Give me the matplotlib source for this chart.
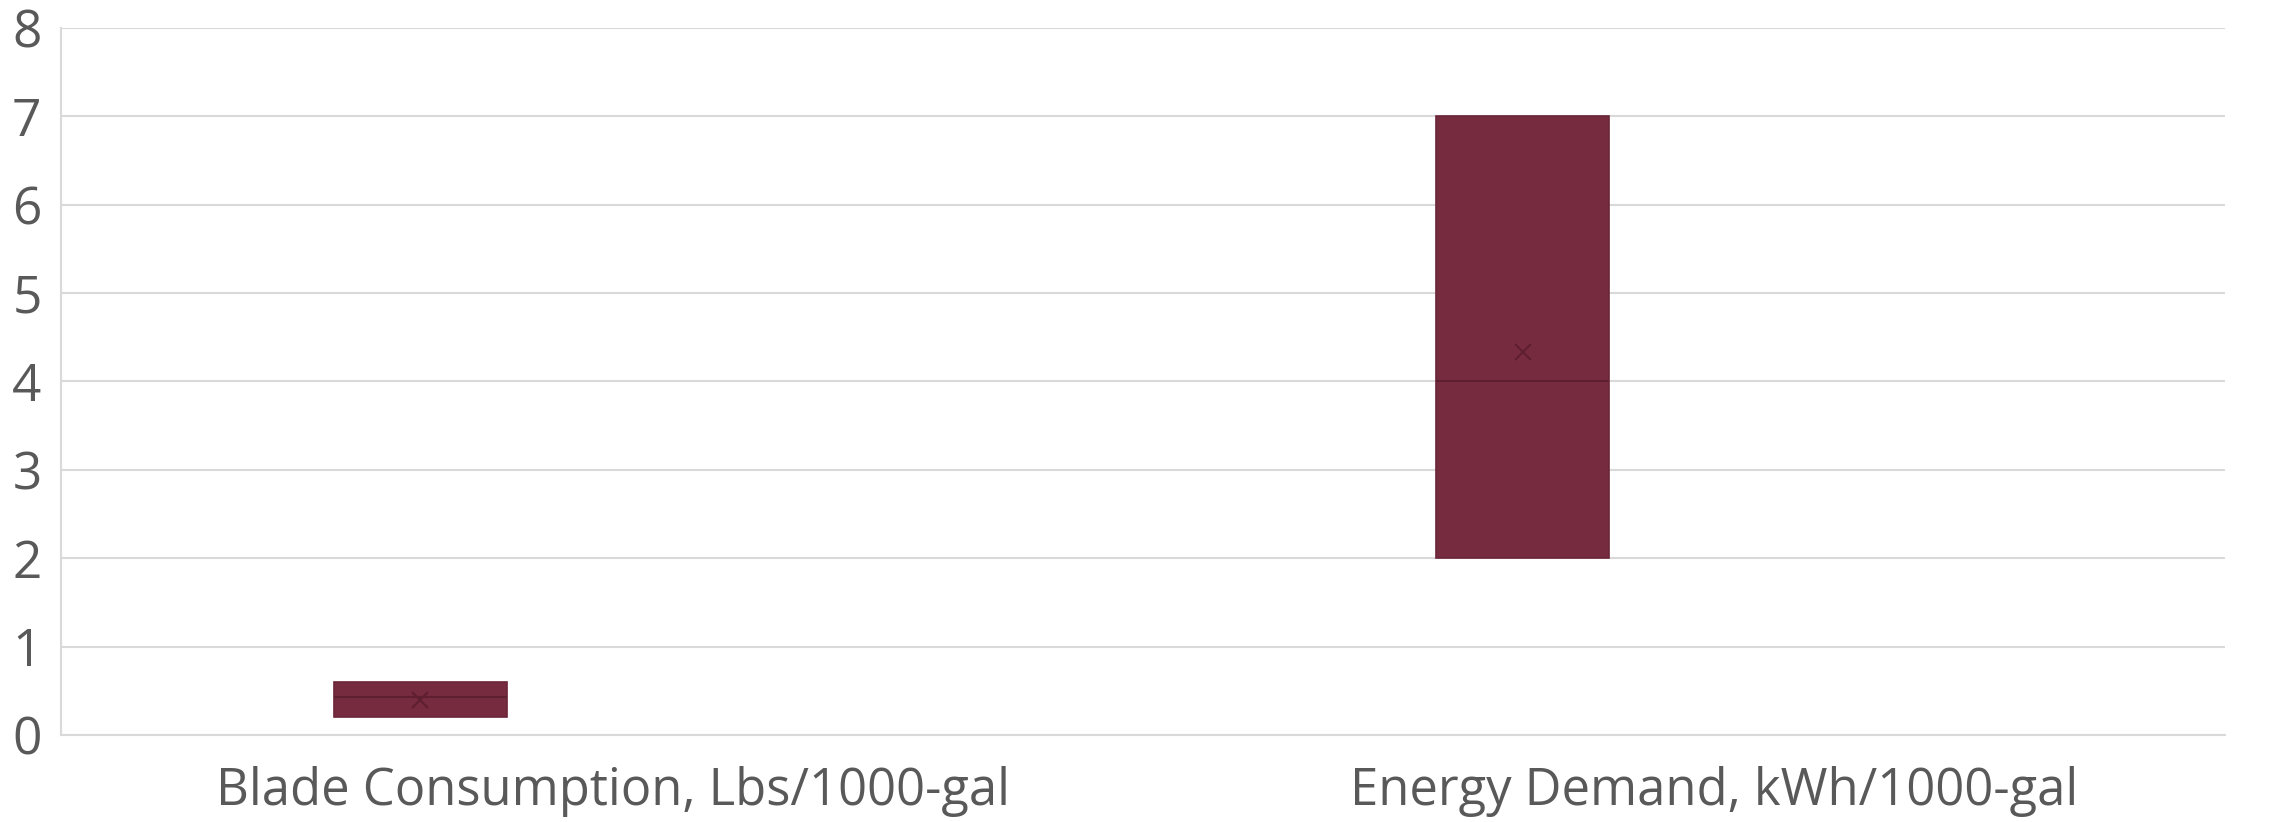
import matplotlib
matplotlib.use("Agg")
import matplotlib.pyplot as plt

# Summary statistics per metric (Excel-style box & whisker, no whiskers beyond the box)
categories = ["Blade Consumption, Lbs/1000-gal", "Energy Demand, kWh/1000-gal"]
q1_values = [0.2, 2.0]
median_values = [0.43, 4.0]
q3_values = [0.6, 7.0]
mean_values = [0.40, 4.33]
min_values = [0.2, 2.0]
max_values = [0.6, 7.0]
y_ticks = [0, 1, 2, 3, 4, 5, 6, 7, 8]

plt.rcParams['font.family'] = ['Open Sans', 'DejaVu Sans']

fig = plt.figure(figsize=(22.77, 8.22), dpi=100)
ax = fig.add_axes([0.0268, 0.1058, 0.9504, 0.8602])

box_fill = "#772b3f"
box_edge = "#6b2538"
dark = "#5e1f30"

stats = []
for i in range(len(categories)):
    stats.append(dict(med=median_values[i], q1=q1_values[i], q3=q3_values[i],
                      whislo=min_values[i], whishi=max_values[i],
                      mean=mean_values[i], fliers=[]))

box_positions = [0.332, 1.351]
ax.bxp(stats, positions=box_positions, widths=0.16, patch_artist=True,
       showmeans=True, showcaps=False, manage_ticks=False,
       boxprops=dict(facecolor=box_fill, edgecolor=box_edge, linewidth=1.2),
       medianprops=dict(color=dark, linewidth=1.5),
       whiskerprops=dict(color=box_edge, linewidth=1.2),
       meanprops=dict(marker="x", markeredgecolor=dark, markersize=12,
                      markeredgewidth=1.5))

ax.set_xlim(0, 2)
ax.set_ylim(0, 8)
ax.set_yticks(y_ticks)
ax.set_yticklabels([str(t) for t in y_ticks])
ax.set_xticks([0.51, 1.528])
ax.set_xticklabels(categories)

ax.grid(axis="y", color="#d9d9d9", linewidth=1.5)
ax.set_axisbelow(True)
for side in ["top", "right"]:
    ax.spines[side].set_visible(False)
ax.spines["left"].set_color("#d9d9d9")
ax.spines["left"].set_linewidth(1.5)
ax.spines["bottom"].set_color("#d9d9d9")
ax.spines["bottom"].set_linewidth(1.5)

ax.tick_params(axis="both", length=0, labelcolor="#595959")
ax.tick_params(axis="y", pad=14, labelsize=37)
ax.tick_params(axis="x", pad=22, labelsize=36.5)

fig.savefig("out.png", dpi=100, facecolor="white")
